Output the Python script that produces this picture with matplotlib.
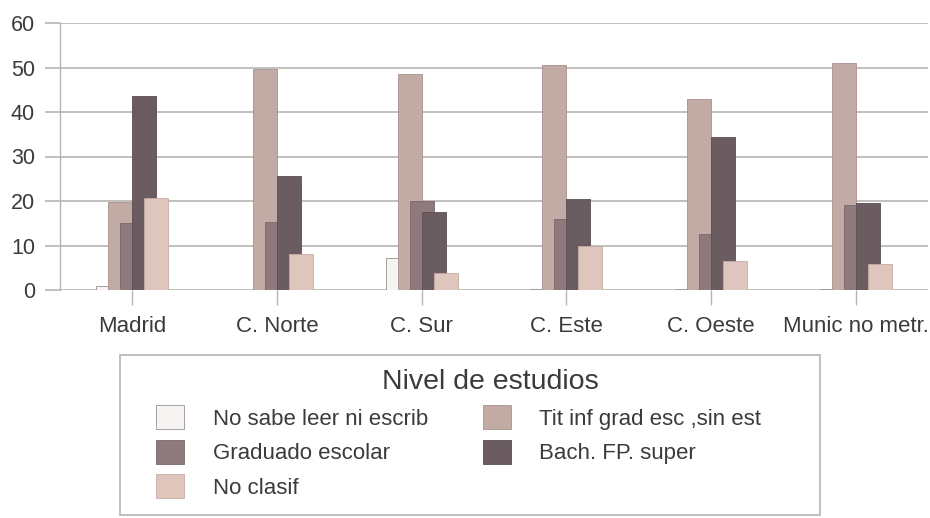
import matplotlib
matplotlib.use("Agg")
import matplotlib.pyplot as plt
import numpy as np
from matplotlib.patches import Patch, Rectangle

plt.rcParams['font.family'] = ['Liberation Sans', 'DejaVu Sans']

# datos (%)
zonas = ["Madrid", "C. Norte", "C. Sur", "C. Este", "C. Oeste", "Munic no metr."]
no_sabe = [0.8, 0.1, 7.2, 0.2, 0.2, 0.2]
tit_inf = [19.8, 49.7, 48.6, 50.6, 43.0, 51.0]
graduado = [15.0, 15.2, 20.0, 16.0, 12.6, 19.0]
bach = [43.5, 25.6, 17.5, 20.4, 34.3, 19.5]
no_clasif = [20.6, 8.0, 3.9, 10.0, 6.6, 5.8]

series = [
    ("No sabe leer ni escrib", no_sabe, "#f6f3f3", "#9a9090"),
    ("Tit inf grad esc ,sin est", tit_inf, "#c2aaa5", "#a8918c"),
    ("Graduado escolar", graduado, "#8e7a7d", "#7a686b"),
    ("Bach. FP. super", bach, "#6a5c61", "#5a4d52"),
    ("No clasif", no_clasif, "#dec6bd", "#c4aca4"),
]

txt = "#3c3a3a"
grid_c = "#b8b4b4"

fig = plt.figure(figsize=(9.3, 5.18), dpi=100)
W, H = 930, 518
ax = fig.add_axes([60 / W, 1 - 290 / H, 868 / W, 267 / H])

x = np.arange(len(zonas))
w = 0.166
step = 0.083
for i, (name, vals, fc, ec) in enumerate(series):
    ax.bar(x + (i - 2) * step, vals, width=w, color=fc, edgecolor=ec,
           linewidth=0.6, zorder=3 + i)

ax.set_xlim(-0.5, len(zonas) - 0.5)
ax.set_ylim(0, 60)
ax.set_yticks(range(0, 61, 10))
ax.set_xticks(x)
ax.set_xticklabels(zonas)
ax.yaxis.grid(True, color=grid_c, linewidth=1.2, zorder=0)
for s in ["top", "right", "bottom"]:
    ax.spines[s].set_visible(False)
ax.spines["left"].set_color(grid_c)
ax.spines["left"].set_linewidth(1.0)
ax.tick_params(axis="y", length=11, width=1.2, color=grid_c, pad=7,
               labelsize=15.5, labelcolor=txt)
ax.tick_params(axis="x", length=11, width=1.0, color=grid_c, pad=8,
               labelsize=16, labelcolor=txt)

# leyenda
orden = [0, 2, 4, 1, 3]
handles = [Patch(facecolor=series[k][2], edgecolor=series[k][3], linewidth=0.6)
           for k in orden]
labels = [series[k][0] for k in orden]
fig.legend(handles, labels, loc="upper left",
           bbox_to_anchor=(156 / W, 1 - 405 / H), ncol=2, frameon=False,
           fontsize=16, handlelength=1.26, handleheight=1.3, handletextpad=1.3,
           labelspacing=0.45, columnspacing=2.45, borderpad=0, borderaxespad=0,
           labelcolor=txt)
fig.text(490 / W, 1 - 382 / H, "Nivel de estudios", ha="center", va="center",
         fontsize=20.5, color=txt)
fig.patches.append(Rectangle((120 / W, 1 - 515 / H), 700 / W, 160 / H,
                             transform=fig.transFigure, fill=False,
                             edgecolor="#b8b4b4", linewidth=1.2))

fig.savefig("out.png", dpi=100)
